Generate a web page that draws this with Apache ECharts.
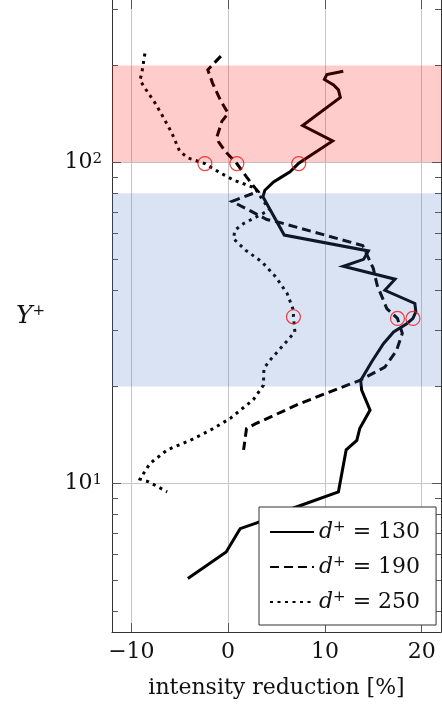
<!DOCTYPE html>
<html>
<head>
<meta charset="utf-8">
<script src="https://cdn.jsdelivr.net/npm/echarts@6/dist/echarts.min.js"></script>
<style>
  html, body { margin: 0; padding: 0; background: #fff; }
  #chart { width: 442px; height: 709px; }
</style>
</head>
<body>
<div id="chart"></div>
<script>
// Intensity reduction profiles over the wall-normal coordinate Y+
const dPlusValues = ['130', '190', '250'];

// d+ = 130 (solid)
const yPlus130 = [192, 187.5, 181, 174, 168, 159, 130, 116.5, 99.3, 93.3, 90, 86.8, 81.8, 78,
  59.3, 52.9, 49.8, 47.4, 43.2, 39.9, 36.3, 34.2, 32.6, 31.4, 29.6, 27.2, 23.9, 20.9, 19.5,
  16.9, 14.8, 13.6, 12.7, 9.4, 8.4, 7.52, 7.22, 6.11, 5.05];
const red130 = [11.9, 10.2, 9.95, 10.9, 11.4, 11.6, 7.7, 10.8, 7.3, 6.4, 5.55, 4.7, 3.8, 3.6,
  5.8, 14.5, 14.0, 11.9, 17.25, 16.2, 19.3, 19.4, 19.1, 18.46, 17.1, 16.05, 14.84, 13.7, 13.8,
  14.67, 13.6, 13.3, 12.2, 11.4, 6.9, 2.96, 1.24, -0.2, -4.16];

// d+ = 190 (dashed)
const yPlus190 = [214, 194, 176, 156, 142, 134, 120, 116, 108, 99, 90, 83, 81, 75.5, 66.3, 64.8,
  55, 46.7, 41.4, 35, 32.6, 29.3, 25.9, 23.0, 20.9, 20.2, 17.7, 15.3, 14.8, 12.7];
const red190 = [-0.75, -2.1, -1.6, -0.8, 0.0, -0.65, -1.15, -1.0, -0.3, 0.9, 1.9, 2.8, 3.1, 0.4,
  4.0, 5.4, 13.9, 15.0, 15.4, 16.4, 17.5, 18.0, 17.4, 16.2, 13.6, 12.3, 7.4, 2.8, 1.9, 1.6];

// d+ = 250 (dotted)
const yPlus250 = [218, 191, 180, 172, 152, 138, 123, 108, 103, 99, 93.3, 88, 83, 80, 71, 64.4,
  61.4, 57.8, 53.2, 48.9, 44, 39, 34.6, 33, 29.6, 26.6, 24.2, 22.8, 20.2, 18.2, 15.9, 14.6, 13.6,
  12.7, 11.5, 10.3, 10.1, 9.4];
const red250 = [-8.6, -8.9, -9.1, -8.7, -7.5, -6.7, -5.8, -5.0, -4.1, -2.4, -1.0, 0.55, 2.8, 3.1,
  4.3, 1.6, 0.7, 0.55, 1.8, 3.5, 4.9, 6.1, 6.75, 6.75, 6.9, 5.55, 4.34, 3.7, 3.65, 2.6, 0.2, -1.9,
  -3.9, -6.3, -8.1, -9.1, -8.2, -6.3];

// highlighted points (red rings)
const ringReduction = [-2.4, 0.9, 7.3, 6.75, 17.5, 19.1];
const ringYPlus = [99, 99, 99, 33, 32.6, 32.6];

// shaded Y+ ranges
const outerBand = [100, 200];
const innerBand = [20, 80];

// axis ticks
const xTicks = [-10, 0, 10, 20];
const yMajorTicks = [10, 100];
const yMinorTicks = [4, 5, 6, 7, 8, 9, 20, 30, 40, 50, 60, 70, 80, 90, 200, 300];

const X_MIN = -12, X_MAX = 22;
const Y_MIN = 3.44, Y_MAX = 320;

const FONT = '"DejaVu Serif", "Liberation Serif", serif';
const INK = '#111';
const GRID = '#c6c6c6';
const AXIS = '#333';

const zip = (xs, ys) => xs.map((x, i) => [x, ys[i]]);
const seriesName = d => 'd+ = ' + d;

const supRich = {
  b: { fontFamily: FONT, fontSize: 22, color: INK },
  i: { fontFamily: FONT, fontSize: 25, fontStyle: 'italic', color: INK },
  s: { fontFamily: FONT, fontSize: 15, color: INK, verticalAlign: 'top' }
};
const legendRich = {
  i: { fontFamily: FONT, fontSize: 22, fontStyle: 'italic', color: INK },
  s: { fontFamily: FONT, fontSize: 15, color: INK, verticalAlign: 'top' },
  n: { fontFamily: FONT, fontSize: 22, color: INK }
};

function yAxisBase(position, ticks, length, showLine) {
  return {
    type: 'log', logBase: 10, min: Y_MIN, max: Y_MAX, position: position,
    axisLine: { show: showLine, onZero: false, lineStyle: { color: AXIS, width: 1 } },
    axisTick: { show: true, inside: true, length: length, customValues: ticks,
      lineStyle: { color: '#555', width: 1 } },
    axisLabel: { show: false },
    splitLine: { show: false },
    minorTick: { show: false }
  };
}

const yMain = yAxisBase('left', yMajorTicks, 9, true);
yMain.axisLabel = {
  show: true, customValues: yMajorTicks, margin: 10,
  fontFamily: FONT, fontSize: 22, color: INK,
  formatter: v => '{b|10}{s|' + Math.round(Math.log10(v)) + '}',
  rich: supRich
};
yMain.splitLine = { show: true, lineStyle: { color: GRID, width: 1 } };
yMain.name = '{i|Y}{s|+}';
yMain.nameLocation = 'middle';
yMain.nameRotate = 0;
yMain.nameGap = 67;
yMain.nameTextStyle = { fontFamily: FONT, fontSize: 25, color: INK, rich: supRich };

const lineSeries = (d, xs, ys, type) => ({
  name: seriesName(d),
  type: 'line',
  data: zip(xs, ys),
  symbol: 'none',
  xAxisIndex: 0, yAxisIndex: 0,
  lineStyle: { color: '#000', width: 3, type: type, join: 'miter' },
  itemStyle: { color: '#000' },
  z: 3
});

// translucent bands lie over the curves, tinting them
const s130 = lineSeries(dPlusValues[0], red130, yPlus130, 'solid');
s130.markArea = {
  silent: true,
  z: 4,
  data: [
    [{ yAxis: outerBand[0], itemStyle: { color: 'rgba(255,0,0,0.2)' } }, { yAxis: outerBand[1] }],
    [{ yAxis: innerBand[0], itemStyle: { color: 'rgba(68,114,196,0.2)' } }, { yAxis: innerBand[1] }]
  ]
};

const option = {
  animation: false,
  backgroundColor: '#fff',
  grid: { left: 112, right: 1, top: 0, bottom: 77, containLabel: false, outerBoundsMode: 'none' },
  xAxis: [
    {
      type: 'value', min: X_MIN, max: X_MAX, splitNumber: 3, position: 'bottom',
      axisLine: { show: true, onZero: false, lineStyle: { color: AXIS, width: 1 } },
      axisTick: { show: true, inside: true, length: 9, customValues: xTicks,
        lineStyle: { color: '#555', width: 1 } },
      axisLabel: {
        customValues: xTicks, margin: 9,
        formatter: v => String(v).replace('-', '\u2212'),
        fontFamily: FONT, fontSize: 22, color: INK
      },
      splitLine: { show: true, lineStyle: { color: GRID, width: 1 } },
      name: 'intensity reduction [%]', nameLocation: 'middle', nameGap: 45,
      nameTextStyle: { fontFamily: FONT, fontSize: 22, color: INK }
    },
    {
      type: 'value', min: X_MIN, max: X_MAX, position: 'top',
      axisLine: { show: false, onZero: false },
      axisTick: { show: true, inside: true, length: 9, customValues: xTicks,
        lineStyle: { color: '#555', width: 1 } },
      axisLabel: { show: false },
      splitLine: { show: false }
    }
  ],
  yAxis: [
    yMain,
    yAxisBase('left', yMinorTicks, 6, false),
    yAxisBase('right', yMajorTicks, 9, true),
    yAxisBase('right', yMinorTicks, 6, false)
  ],
  legend: {
    orient: 'vertical',
    left: 259, top: 507,
    z: 10,
    data: dPlusValues.map(seriesName),
    itemWidth: 44, itemHeight: 14, itemGap: 11,
    padding: [13, 16, 11, 10],
    backgroundColor: '#fff',
    borderColor: '#333', borderWidth: 1, borderRadius: 0,
    itemStyle: { opacity: 0 },
    textStyle: { fontFamily: FONT, fontSize: 22, color: INK, lineHeight: 24, rich: legendRich },
    formatter: name => '{i|d}{s|+}{n| = ' + name.split(' = ')[1] + '}',
    selectedMode: false
  },
  series: [
    s130,
    lineSeries(dPlusValues[1], red190, yPlus190, [9, 5]),
    lineSeries(dPlusValues[2], red250, yPlus250, [3, 4.5]),
    {
      name: 'rings',
      type: 'scatter',
      data: zip(ringReduction, ringYPlus),
      symbol: 'circle',
      symbolSize: 14,
      itemStyle: { color: 'rgba(0,0,0,0)', borderColor: '#ee1111', borderWidth: 1.2 },
      z: 6
    }
  ]
};

const chart = echarts.init(document.getElementById('chart'), null, { renderer: 'canvas' });
chart.setOption(option);
</script>
</body>
</html>
